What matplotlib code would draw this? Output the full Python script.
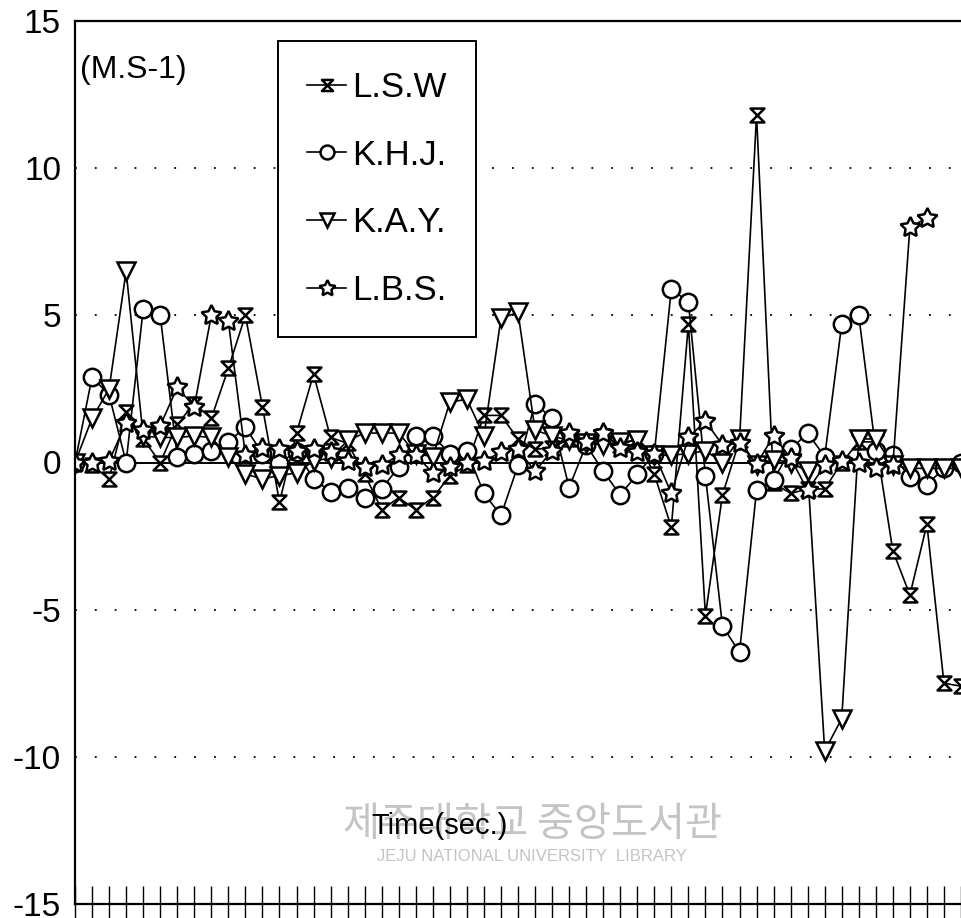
import matplotlib.pyplot as plt
from matplotlib.path import Path

# 측정 시점 (index), 속도 값 (M.S-1)
t = list(range(53))

lsw = [0, -0.1, -0.55, 1.7, 0.8, 0.0, 1.3, 2.0, 1.5, 3.2, 5.0, 1.9, -1.35, 1.0, 3.0,
       0.85, 0.65, -0.4, -1.6, -1.2, -1.6, -1.2, -0.45, -0.1, 1.6, 1.6, 0.8, 0.45, 0.5,
       0.8, 0.7, 0.9, 0.6, 0.8, -0.4, -2.2, 4.7, -5.2, -1.1, 0.75, 11.8, -0.7, -1.05,
       -0.9, -0.9, 0.0, 0.7, 0.7, -3.0, -4.5, -2.1, -7.5, -7.6]
khj = [0, 2.9, 2.3, 0.0, 5.2, 5.0, 0.2, 0.3, 0.4, 0.7, 1.2, 0.3, 0.0, 0.35, -0.55,
       -1.0, -0.85, -1.2, -0.9, -0.15, 0.9, 0.9, 0.3, 0.4, -1.05, -1.8, -0.1, 2.0, 1.5,
       -0.85, 0.6, -0.3, -1.1, -0.4, 0.3, 5.9, 5.45, -0.45, -5.55, -6.45, -0.95, -0.6,
       0.45, 1.0, 0.2, 4.7, 5.0, 0.4, 0.25, -0.5, -0.75, -0.2, 0.0]
kay = [0, 1.5, 2.5, 6.5, 0.9, 0.85, 0.85, 0.9, 0.85, 0.2, -0.4, -0.55, -0.45, -0.35,
       0.05, 0.15, 0.75, 1.0, 1.0, 1.0, 0.3, 0.2, 2.05, 2.15, 0.9, 4.9, 5.1, 1.1, 0.9,
       0.75, 0.65, 0.6, 0.7, 0.75, 0.25, 0.25, 0.3, 0.4, 0.0, 0.8, -0.1, 0.1, 0.0, -0.3,
       -9.8, -8.7, 0.8, 0.8, -0.1, -0.2, -0.2, -0.2, -0.2]
lbs = [0, 0.0, 0.05, 1.35, 1.1, 1.25, 2.55, 1.9, 5.0, 4.8, 0.25, 0.5, 0.45, 0.4, 0.45,
       0.35, 0.05, -0.15, -0.1, 0.25, 0.25, -0.35, -0.15, 0.0, 0.05, 0.35, 0.45, -0.3,
       0.4, 1.0, 0.7, 1.0, 0.5, 0.35, 0.3, -1.05, 0.85, 1.4, 0.6, 0.65, -0.05, 0.9, 0.15,
       -0.95, -0.1, 0.05, 0.0, -0.2, -0.1, 8.0, 8.3]

plt.rcParams['font.family'] = ['Liberation Sans', 'DejaVu Sans']

# 모래시계 모양 마커
hourglass = Path([(-1, 1), (1, 1), (-1, -1), (1, -1), (-1, 1)],
                 [Path.MOVETO, Path.LINETO, Path.LINETO, Path.LINETO, Path.CLOSEPOLY])

fig = plt.figure(figsize=(9.61, 9.18), dpi=100)
ax = fig.add_axes([75 / 961, 14 / 918, 886 / 961, 883 / 918])

estilo = dict(color='black', linewidth=1.2, markerfacecolor='white',
              markeredgecolor='black', markeredgewidth=1.8)
ax.plot(t[:len(lsw)], lsw, marker=hourglass, markersize=10, label='L.S.W', **estilo)
ax.plot(t[:len(khj)], khj, marker='o', markersize=12.5, label='K.H.J.', **estilo)
ax.plot(t[:len(kay)], kay, marker='v', markersize=12.5, label='K.A.Y.', **estilo)
ax.plot(t[:len(lbs)], lbs, marker=(5, 1, 0), markersize=15, label='L.B.S.', **estilo)

ax.axhline(0, color='black', linewidth=1.4, zorder=1)
for v in [10, 5, -5, -10]:
    ax.axhline(v, color='black', linewidth=1.3, linestyle=(0, (1, 10)), zorder=0)

ax.set_xlim(0, 52)
ax.set_ylim(-15, 15)
ax.set_yticks([-15, -10, -5, 0, 5, 10, 15])
ax.set_yticklabels(['-15', '-10', '-5', '0', '5', '10', '15'], fontsize=24)
ax.tick_params(axis='y', length=0, pad=10)
ax.set_xticks(t)
ax.set_xticklabels([])
ax.tick_params(axis='x', direction='inout', length=26, width=1.0)
ax.spines['right'].set_visible(False)
for s in ['left', 'top', 'bottom']:
    ax.spines[s].set_linewidth(1.6)

ax.text(0.006, 0.962, '(M.S-1)', transform=ax.transAxes, fontsize=23, va='top')

leg = ax.legend(loc='upper left', bbox_to_anchor=(0.229, 0.977), fontsize=25,
                handlelength=1.1, handletextpad=0.2, labelspacing=1.0,
                borderpad=0.85, borderaxespad=0, fancybox=False, framealpha=1,
                edgecolor='black', markerscale=0.8)
leg.get_frame().set_linewidth(1.4)

# 워터마크
ax.text(0.516, 0.09, '제주대학교 중앙도서관', transform=ax.transAxes, fontsize=29,
        color='#c4c4c4', ha='center', va='center', family=['Noto Sans CJK KR'], zorder=0)
ax.text(0.516, 0.054, 'JEJU NATIONAL UNIVERSITY  LIBRARY', transform=ax.transAxes,
        fontsize=12, color='#c4c4c4', ha='center', va='center', zorder=0)
ax.text(0.412, 0.088, 'Time(sec.)', transform=ax.transAxes, fontsize=21,
        ha='center', va='center')

fig.savefig('out.png', dpi=100)
